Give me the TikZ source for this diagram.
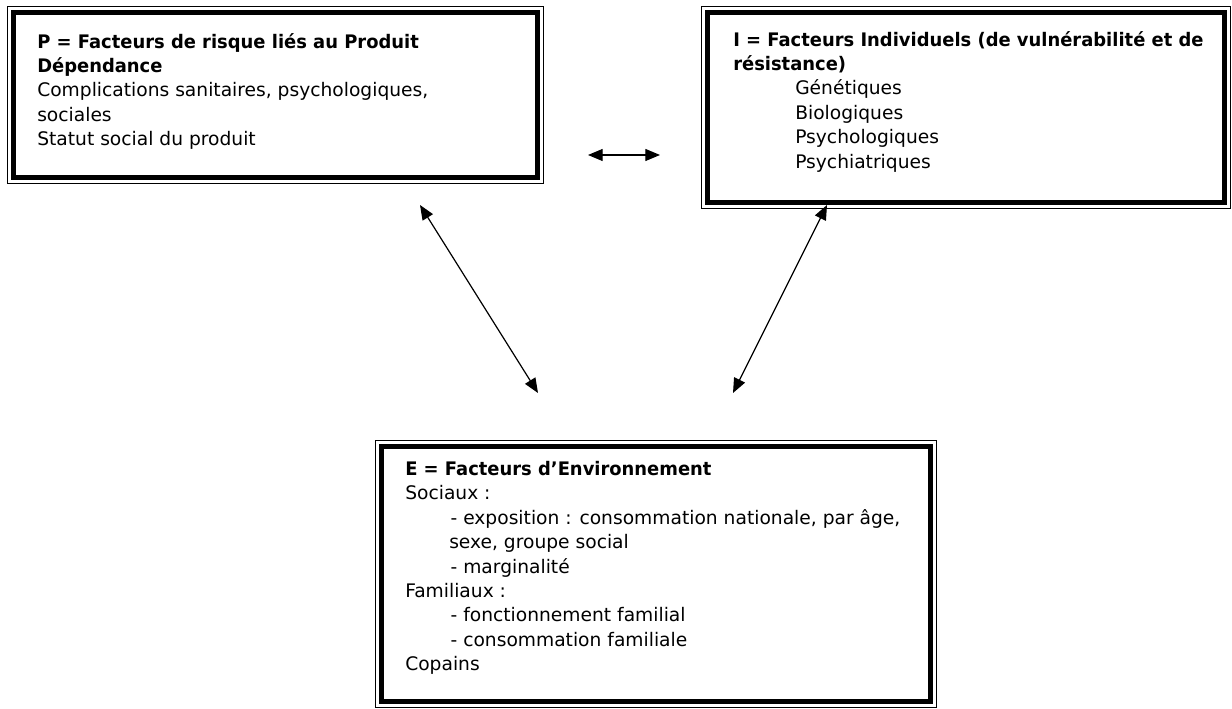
\documentclass[tikz,border=0pt]{standalone}
\usepackage{fontspec}
\setmainfont{DejaVu Sans}[BoldFeatures={FakeStretch=0.96}]
\usetikzlibrary{arrows.meta}
\begin{document}
\begin{tikzpicture}
[x=0.75pt, y=-0.75pt,
cadre/.style={draw, line width=0.9pt, inner sep=0pt, anchor=north west,
  path picture={\draw[line width=3.4pt] ([shift={(4.5pt,-4.5pt)}]path picture bounding box.north west) rectangle ([shift={(-4.5pt,4.5pt)}]path picture bounding box.south east);}},
texte/.style={anchor=north west, inner sep=0pt, align=left, font=\fontsize{14}{18.3}\selectfont},
fleche/.style={{Triangle[length=11pt,width=9pt]}-{Triangle[length=11pt,width=9pt]}, line width=0.9pt}]
\useasboundingbox (0,0) rectangle (1232,709);
% les trois cadres
\node[cadre, minimum width=402pt, minimum height=132.75pt] (P) at (7,6) {};
\node[cadre, minimum width=396.75pt, minimum height=151.5pt] (I) at (701,6) {};
\node[cadre, minimum width=420.75pt, minimum height=200.25pt] (E) at (375,440) {};
% textes
\node[texte] (Ptxt) at (37,33) {\textbf{P = Facteurs de risque liés au Produit}\\
  \textbf{Dépendance}\\
  Complications sanitaires, psychologiques,\\
  sociales\\
  Statut social du produit};
\node[texte] (Itxt) at (733,31) {\textbf{I = Facteurs Individuels (de vulnérabilité et de}\\
  \textbf{résistance)}\\
  \hspace*{46.5pt}Génétiques\\
  \hspace*{46.5pt}Biologiques\\
  \hspace*{46.5pt}Psychologiques\\
  \hspace*{46.5pt}Psychiatriques};
\node[texte] (Etxt) at (405,461) {\textbf{E = Facteurs d’Environnement}\\
  Sociaux :\\
  \hspace*{34pt}- exposition : consommation nationale, par âge,\\
  \hspace*{33pt}sexe, groupe social\\
  \hspace*{34pt}- marginalité\\
  Familiaux :\\
  \hspace*{34pt}- fonctionnement familial\\
  \hspace*{34pt}- consommation familiale\\
  Copains};
% fleches
\coordinate (hP) at (588,155);
\coordinate (hI) at (660,155);
\coordinate (dP) at (420,205);
\coordinate (dPE) at (538,393);
\coordinate (dI) at (827,205);
\coordinate (dIE) at (733,393);
\draw[fleche] (hP) -- (hI);
\draw[fleche] (dP) -- (dPE);
\draw[fleche] (dI) -- (dIE);
\end{tikzpicture}
\end{document}
